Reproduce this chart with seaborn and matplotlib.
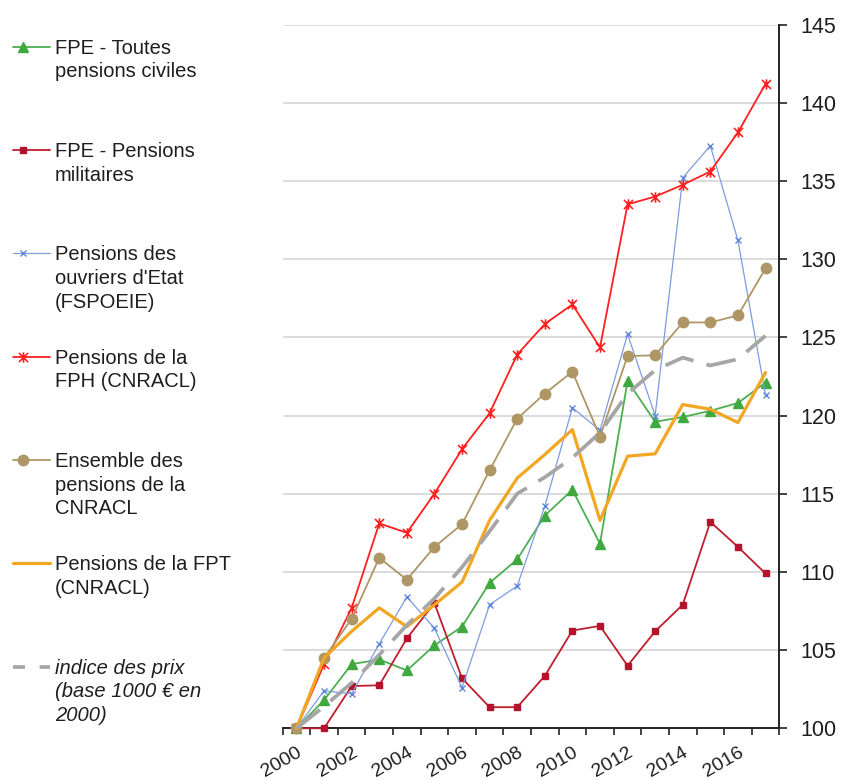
import numpy as np
import pandas as pd
import seaborn as sns
import matplotlib.pyplot as plt
from matplotlib.path import Path
from matplotlib.lines import Line2D

sns.set_theme(style="white")
plt.rcParams['font.family'] = ['Liberation Sans', 'DejaVu Sans']

# Pension indices, base 100 in 2000
years = list(range(2000, 2018))
fpe_civiles = [100, 101.8, 104.1, 104.4, 103.7, 105.3, 106.5, 109.3, 110.8, 113.6,
               115.25, 111.8, 122.2, 119.6, 119.9, 120.3, 120.8, 122.1]
fpe_militaires = [100, 100, 102.7, 102.75, 105.75, 108.0, 103.2, 101.35, 101.35, 103.35,
                  106.25, 106.55, 104.0, 106.2, 107.9, 113.2, 111.6, 109.9]
ouvriers_etat = [100, 102.4, 102.2, 105.4, 108.4, 106.4, 102.6, 107.9, 109.1, 114.2,
                 120.5, 119.05, 125.2, 120.0, 135.2, 137.25, 131.2, 121.3]
fph_cnracl = [100, 104.1, 107.7, 113.1, 112.5, 115.0, 117.85, 120.15, 123.9, 125.85,
              127.1, 124.35, 133.5, 134.0, 134.75, 135.6, 138.1, 141.2]
ensemble_cnracl = [100, 104.5, 107.0, 110.9, 109.5, 111.6, 113.05, 116.5, 119.8, 121.4,
                   122.8, 118.65, 123.8, 123.85, 125.95, 125.95, 126.4, 129.4]
fpt_cnracl = [100, 104.5, 106.2, 107.7, 106.5, 107.9, 109.35, 113.3, 116.0, 117.5,
              119.1, 113.3, 117.4, 117.55, 120.7, 120.4, 119.55, 122.75]
indice_prix = [100, 101.4, 102.9, 104.7, 106.6, 108.3, 110.3, 112.6, 115.0, 116.05,
               117.3, 118.9, 121.4, 122.9, 123.7, 123.2, 123.6, 125.1]

labels = [
    "FPE - Toutes\npensions civiles",
    "FPE - Pensions\nmilitaires",
    "Pensions des\nouvriers d'Etat\n(FSPOEIE)",
    "Pensions de la\nFPH (CNRACL)",
    "Ensemble des\npensions de la\nCNRACL",
    "Pensions de la FPT\n(CNRACL)",
    "indice des prix\n(base 1000 € en\n2000)",
]
ytick_values = [100, 105, 110, 115, 120, 125, 130, 135, 140, 145]
xtick_years = years[::2]

df = pd.DataFrame({
    "annee": years,
    "civiles": fpe_civiles,
    "militaires": fpe_militaires,
    "ouvriers": ouvriers_etat,
    "fph": fph_cnracl,
    "ensemble": ensemble_cnracl,
    "fpt": fpt_cnracl,
    "prix": indice_prix,
})

# star marker: a cross plus a vertical bar
star = Path([(-1, -1), (1, 1), (-1, 1), (1, -1), (0, -1.15), (0, 1.15)],
            [Path.MOVETO, Path.LINETO] * 3)

styles = [
    dict(col="civiles", color="#4CAF50", lw=1.3, marker="^", ms=7.5,
         mfc="#3FA83F", mec="#3FA83F"),
    dict(col="militaires", color="#BE1E2D", lw=1.3, marker="s", ms=5,
         mfc="#B5122B", mec="#B5122B"),
    dict(col="ouvriers", color="#7C9CE0", lw=0.9, marker="x", ms=4.5,
         mfc="#5F86D8", mec="#5F86D8", mew=1.0),
    dict(col="fph", color="#FF1F1F", lw=1.3, marker=star, ms=7.5,
         mfc="none", mec="#FF1F1F", mew=1.2),
    dict(col="ensemble", color="#AE9665", lw=1.3, marker="o", ms=7.5,
         mfc="#AE9665", mec="#AE9665"),
    dict(col="fpt", color="#F2A622", lw=2.3, marker=None, ms=0,
         mfc="none", mec="none"),
    dict(col="prix", color="#A6A6A6", lw=2.7, marker=None, ms=0,
         mfc="none", mec="none", ls=(0, (8, 3.6))),
]

fig = plt.figure(figsize=(8.46, 7.8), dpi=100)
ax = fig.add_axes([282.7 / 846, 1 - 728.3 / 780, 496.6 / 846, (728.3 - 24.5) / 780])

for z, st in enumerate(styles):
    kw = dict(color=st["color"], linewidth=st["lw"], legend=False, errorbar=None,
              zorder=3 + z, clip_on=False)
    if st["marker"] is not None:
        kw.update(marker=st["marker"], markersize=st["ms"],
                  markerfacecolor=st["mfc"], markeredgecolor=st["mec"],
                  markeredgewidth=st.get("mew", 1.0))
    if "ls" in st:
        kw.update(linestyle=st["ls"])
    sns.lineplot(data=df, x="annee", y=st["col"], ax=ax, **kw)

# axes
ax.set_xlim(years[0] - 0.5, years[-1] + 0.5)
ax.set_ylim(100, 145)
ax.set_xlabel("")
ax.set_ylabel("")
ax.yaxis.tick_right()
ax.set_yticks(ytick_values)
ax.set_yticklabels([str(v) for v in ytick_values])
ax.tick_params(axis="y", which="major", direction="out", length=6, width=1.2,
               color="#222222", pad=9, labelsize=15.5, labelcolor="#1e1e1e",
               left=False, right=True)

ax.set_xticks(np.arange(years[0] - 0.5, years[-1] + 1, 1))
ax.set_xticklabels([])
ax.set_xticks(xtick_years, minor=True)
ax.set_xticklabels([str(y) for y in xtick_years], minor=True)
ax.tick_params(axis="x", which="major", direction="out", length=5, width=1.2,
               color="#222222", bottom=True)
ax.tick_params(axis="x", which="minor", length=0, pad=11, labelsize=14,
               labelcolor="#1e1e1e", bottom=True)
for lbl in ax.get_xticklabels(minor=True):
    lbl.set_rotation(30)
    lbl.set_ha("right")
    lbl.set_va("top")
    lbl.set_rotation_mode("anchor")

ax.yaxis.grid(True, color="#d9d9d9", linewidth=1.3, zorder=0)
ax.xaxis.grid(False)
ax.set_axisbelow(True)
for side in ("left", "top"):
    ax.spines[side].set_visible(False)
for side in ("right", "bottom"):
    ax.spines[side].set_visible(True)
    ax.spines[side].set_color("#222222")
    ax.spines[side].set_linewidth(1.4)

# legend column on the left, one entry every ~103 px
W, H = 846, 780
for k, (st, lab) in enumerate(zip(styles, labels)):
    yc = 46.7 + k * 103.3
    yf = 1 - yc / H
    if st["col"] == "prix":
        fig.add_artist(Line2D([13 / W, 50 / W], [yf, yf], transform=fig.transFigure,
                              color=st["color"], linewidth=st["lw"],
                              linestyle=(0, (3.2, 3.9))))
    else:
        fig.add_artist(Line2D([13 / W, 50 / W], [yf, yf], transform=fig.transFigure,
                              color=st["color"], linewidth=st["lw"]))
        if st["marker"] is not None:
            fig.add_artist(Line2D([22.7 / W], [yf], transform=fig.transFigure,
                                  linestyle="none", marker=st["marker"],
                                  markersize=st["ms"], markerfacecolor=st["mfc"],
                                  markeredgecolor=st["mec"],
                                  markeredgewidth=st.get("mew", 1.0)))
    fig.text(55 / W, 1 - (yc - 7.8) / H, lab, ha="left", va="top", fontsize=14.5,
             color="#1e1e1e", linespacing=1.3,
             style="italic" if st["col"] == "prix" else "normal")

fig.savefig("out.png", dpi=100)
